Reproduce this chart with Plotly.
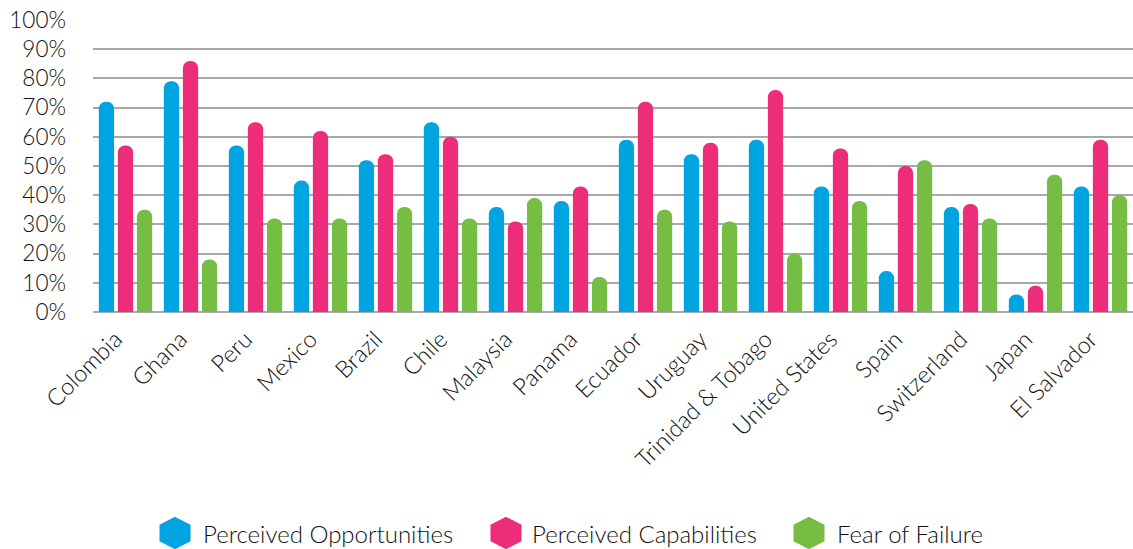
import plotly.graph_objects as go

countries = ["Colombia", "Ghana", "Peru", "Mexico", "Brazil", "Chile", "Malaysia", "Panama",
             "Ecuador", "Uruguay", "Trinidad & Tobago", "United States", "Spain", "Switzerland",
             "Japan", "El Salvador"]
perceived_opportunities = [72, 79, 57, 45, 52, 65, 36, 38, 59, 54, 59, 43, 14, 36, 6, 43]
perceived_capabilities = [57, 86, 65, 62, 54, 60, 31, 43, 72, 58, 76, 56, 50, 37, 9, 59]
fear_of_failure = [35, 18, 32, 32, 36, 32, 39, 12, 35, 31, 20, 38, 52, 32, 47, 40]

series_names = ["Perceived Opportunities", "Perceived Capabilities", "Fear of Failure"]
series_values = [perceived_opportunities, perceived_capabilities, fear_of_failure]
colors = ["#00A4E0", "#EE2D7A", "#76BD43"]

W, H = 1133, 549
ML, MR, MT, MB = 93, 0, 20, 237
PW, PH = W - ML - MR, H - MT - MB

def px_to_paper(px, py):
    return (px - ML) / PW, (H - MB - py) / PH

font_family = "Lato, 'Open Sans', sans-serif"
text_color = "#111111"

fig = go.Figure()
for name, vals, col in zip(series_names, series_values, colors):
    fig.add_trace(go.Bar(
        x=countries, y=vals, name=name, showlegend=False,
        marker=dict(color=col, cornerradius="50%", line=dict(width=0)),
        hovertemplate="%{x}: %{y}%<extra>" + name + "</extra>",
    ))

# manual legend (hexagon markers + labels)
legend_marker_px = [175, 506, 809]
legend_text_px = [201, 530, 835]
legend_y_px = 533
hw, hh = 14, 14.5
hex_path = (f"M 0 {hh} L {hw} {hh/2} L {hw} {-hh/2} L 0 {-hh} "
            f"L {-hw} {-hh/2} L {-hw} {hh/2} Z")
shapes, annotations = [], []
for name, col, mx, tx in zip(series_names, colors, legend_marker_px, legend_text_px):
    ax, ay = px_to_paper(mx, legend_y_px)
    shapes.append(dict(type="path", xref="paper", yref="paper", xsizemode="pixel",
                       ysizemode="pixel", xanchor=ax, yanchor=ay, path=hex_path,
                       fillcolor=col, line=dict(color=col, width=3)))
    tx_p, ty_p = px_to_paper(tx, legend_y_px)
    annotations.append(dict(text=name, xref="paper", yref="paper", x=tx_p, y=ty_p,
                            xanchor="left", yanchor="middle", showarrow=False,
                            font=dict(size=24, color=text_color, family=font_family)))

fig.update_layout(
    width=W, height=H,
    margin=dict(l=ML, r=MR, t=MT, b=MB, autoexpand=False),
    paper_bgcolor="white", plot_bgcolor="white",
    barmode="group", bargap=0.12, bargroupgap=0.2,
    showlegend=False,
    font=dict(family=font_family, color=text_color, size=22, weight=300),
    shapes=shapes, annotations=annotations,
    xaxis=dict(tickangle=-45, showgrid=False, showline=False, ticks="", automargin=False,
               ticklabelstandoff=8, ticklabelshift=-10,
               tickfont=dict(size=23.5), categoryorder="array", categoryarray=countries),
    yaxis=dict(range=[0, 100], dtick=10, ticksuffix="%", showgrid=True, automargin=False,
               gridcolor="#A7A9AC", gridwidth=2, zeroline=True, zerolinecolor="#A7A9AC",
               zerolinewidth=2, ticklabelstandoff=26, tickfont=dict(size=22.5)),
)
fig.write_html("out.html", config={"displayModeBar": False},
               post_script="document.body.style.margin='0';document.body.style.overflow='hidden';")
